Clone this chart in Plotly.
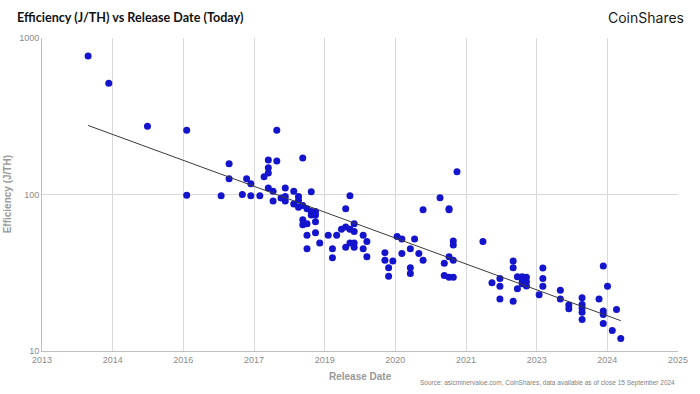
import numpy as np
import plotly.graph_objects as go

# Release date (decimal year on the chart's linear axis) and efficiency (J/TH)
release_year = [
    2013.87, 2014.26, 2014.99, 2015.73, 2015.73, 2016.38, 2016.53, 2016.53, 2016.78, 2016.86,
    2016.94, 2016.94, 2017.11, 2017.19, 2017.27, 2017.27, 2017.27, 2017.27, 2017.36, 2017.36,
    2017.43, 2017.43, 2017.51, 2017.59, 2017.59, 2017.59, 2017.75, 2017.75, 2017.84, 2017.84,
    2017.84, 2017.92, 2017.92, 2017.92, 2017.92, 2018.00, 2018.00, 2018.00, 2018.00, 2018.08,
    2018.08, 2018.08, 2018.16, 2018.16, 2018.16, 2018.16, 2018.24, 2018.40, 2018.48, 2018.48,
    2018.56, 2018.65, 2018.73, 2018.73, 2018.73, 2018.81, 2018.81, 2018.81, 2018.89, 2018.89,
    2018.89, 2018.89, 2019.06, 2019.06, 2019.13, 2019.13, 2019.47, 2019.47, 2019.54, 2019.54,
    2019.62, 2019.70, 2019.79, 2019.79, 2019.95, 2019.95, 2019.95, 2020.03, 2020.11, 2020.19,
    2020.19, 2020.51, 2020.59, 2020.59, 2020.68, 2020.68, 2020.68, 2020.68, 2020.76, 2020.76,
    2020.76, 2020.76, 2020.83, 2021.32, 2021.49, 2021.64, 2021.64, 2021.64, 2021.89, 2021.89,
    2021.89, 2021.97, 2021.97, 2022.06, 2022.06, 2022.06, 2022.14, 2022.14, 2022.14, 2022.38,
    2022.45, 2022.45, 2022.45, 2022.78, 2022.78, 2022.94, 2022.94, 2023.19, 2023.19, 2023.19,
    2023.19, 2023.19, 2023.51, 2023.59, 2023.67, 2023.59, 2023.59, 2023.59, 2023.76, 2023.84,
    2023.92,
]
efficiency_j_th = [
    767, 513, 273, 257, 99, 98, 157, 126, 100, 126,
    117, 98, 98, 130, 166, 148, 137, 110, 105, 91,
    257, 164, 95, 110, 97, 91, 105, 87, 97, 92,
    83, 171, 85, 69, 64, 81, 65, 55, 45, 104,
    78, 74, 78, 74, 67, 57, 49, 55, 45, 39.4,
    55, 60, 81, 62, 46, 98, 60, 49, 65, 58,
    49, 46, 55, 45, 50, 40, 42.5, 38, 34, 30,
    37.6, 54, 52, 42, 45, 34, 31.3, 52, 42, 80,
    38, 95.5, 36.4, 30.4, 81, 80, 40, 29.6, 50.5, 47.6,
    38, 29.6, 140, 50, 27.3, 29.1, 25.9, 21.5, 37.6, 34,
    20.8, 29.8, 25, 29.8, 27.7, 26.9, 29.6, 27.7, 26, 22.9,
    33.9, 29.1, 25.9, 24.4, 21.5, 19.7, 18.6, 21.9, 19.8, 18.8,
    17.7, 15.9, 21.5, 34.9, 25.9, 18.0, 17.1, 15.0, 13.5, 18.4,
    12.0,
]

x_axis_range = [2013, 2025]
x_tick_labels = ["2013", "2014", "2016", "2017", "2019", "2020", "2021", "2023", "2024", "2025"]
y_tick_values = [10, 100, 1000]
y_tick_labels = ["10", "100", "1000"]

x_tick_values = list(np.linspace(x_axis_range[0], x_axis_range[1], len(x_tick_labels)))

# exponential trend line (straight on the log axis), fitted to the data
xs = np.array(release_year)
ys = np.log10(np.array(efficiency_j_th))
slope, intercept = np.polyfit(xs, ys, 1)
trend_x = [xs.min(), xs.max()]
trend_y = [10 ** (intercept + slope * v) for v in trend_x]

fig = go.Figure()
fig.add_trace(go.Scatter(
    x=release_year, y=efficiency_j_th, mode="markers",
    marker=dict(size=7, color="#1414cc", line=dict(width=0)),
    showlegend=False, hoverinfo="x+y",
))
fig.add_trace(go.Scatter(
    x=trend_x, y=trend_y, mode="lines",
    line=dict(color="#3a3a3a", width=1),
    showlegend=False, hoverinfo="skip",
))

tick_font = dict(family="Liberation Sans, Arial, sans-serif", size=9, color="#8c8c8c")
axis_title_font = dict(family="Liberation Sans, Arial, sans-serif", size=10, color="#999999")

fig.update_layout(
    width=700, height=394,
    margin=dict(l=42, r=16, t=38, b=43),
    paper_bgcolor="white", plot_bgcolor="white",
    xaxis=dict(
        range=x_axis_range, tickmode="array", tickvals=x_tick_values, ticktext=x_tick_labels,
        showgrid=True, gridcolor="#d9d9d9", gridwidth=1, zeroline=False,
        showline=True, linecolor="#bfbfbf", linewidth=1, ticks="",
        tickfont=tick_font,
    ),
    yaxis=dict(
        type="log", range=[1, 3], tickmode="array", tickvals=y_tick_values, ticktext=y_tick_labels,
        showgrid=True, gridcolor="#d9d9d9", gridwidth=1, zeroline=False,
        showline=True, linecolor="#bfbfbf", linewidth=1, ticks="",
        tickfont=tick_font,
    ),
    annotations=[
        dict(text="<b>Efficiency (J/TH) vs Release Date (Today)</b>", xref="paper", yref="paper",
             x=-0.042, y=1.067, xanchor="left", yanchor="middle", showarrow=False,
             font=dict(family="Lato, Liberation Sans, sans-serif", size=12.6, color="#111111")),
        dict(text="CoinShares", xref="paper", yref="paper",
             x=1.0125, y=1.067, xanchor="right", yanchor="middle", showarrow=False,
             font=dict(family="Inter, sans-serif", size=14, color="#1a1a1a")),
        dict(text="<b>Release Date</b>", xref="paper", yref="paper",
             x=0.5, y=-0.083, xanchor="center", yanchor="middle", showarrow=False,
             font=axis_title_font),
        dict(text="<b>Efficiency (J/TH)</b>", xref="paper", yref="paper",
             x=-0.0537, y=0.5, xanchor="center", yanchor="middle", showarrow=False,
             textangle=-90, font=axis_title_font),
        dict(text="Source: asicminervalue.com, CoinShares, data available as of close 15 September 2024",
             xref="paper", yref="paper", x=0.9984, y=-0.102, xanchor="right", yanchor="middle",
             showarrow=False,
             font=dict(family="Liberation Sans, Arial, sans-serif", size=6.5, color="#808080")),
    ],
)

fig.write_html("out.html", config={"displayModeBar": False},
               post_script="document.body.style.margin='0';")
